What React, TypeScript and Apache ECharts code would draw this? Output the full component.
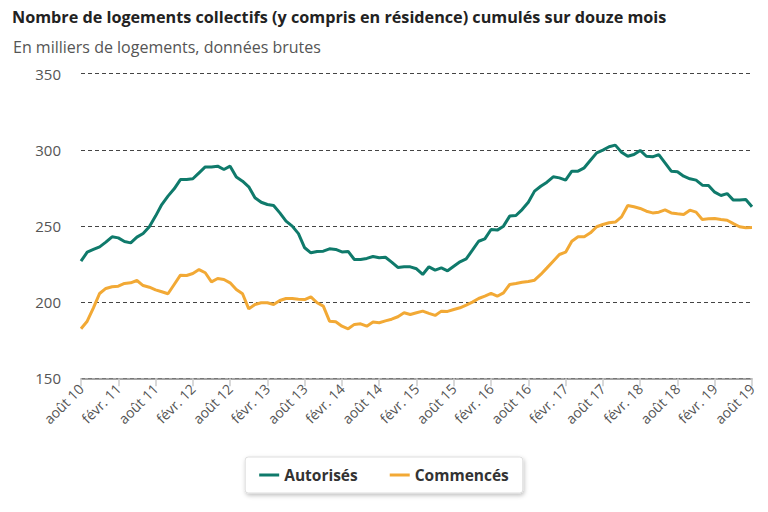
import React, { useEffect, useRef } from "react";
import * as echarts from "echarts";

const MONTHS = ["janv.", "févr.", "mars", "avr.", "mai", "juin", "juil.", "août", "sept.", "oct.", "nov.", "déc."];
// août 2010 .. août 2019
const categories: string[] = [];
for (let i = 0; i <= 108; i++) {
  const mi = (7 + i) % 12;
  const yr = 10 + Math.floor((7 + i) / 12);
  categories.push(`${MONTHS[mi]} ${yr}`);
}

const autorises = [
  226.9, 232.8, 234.6, 236.3, 239.4, 242.9, 242.2, 239.8, 238.9, 242.7, 245.1, 249.5,
  256.5, 264.1, 269.6, 274.4, 280.5, 280.5, 281.0, 284.9, 288.8, 288.8, 289.3, 287.1,
  289.3, 282.1, 279.4, 275.7, 268.5, 265.6, 264.1, 263.5, 258.6, 253.2, 249.9, 245.0,
  235.7, 232.4, 233.3, 233.5, 235.0, 234.6, 233.0, 233.3, 228.0, 228.0, 228.7, 230.0,
  229.1, 229.5, 226.3, 222.8, 223.2, 223.2, 221.9, 218.2, 223.2, 221.0, 222.5, 220.6,
  223.6, 226.5, 228.4, 234.1, 240.0, 241.6, 247.7, 247.3, 249.9, 256.5, 256.9, 260.8,
  265.6, 272.9, 276.1, 278.8, 282.3, 281.6, 280.1, 286.0, 286.0, 288.2, 293.2, 298.0,
  299.8, 302.0, 303.1, 298.5, 295.8, 296.9, 299.6, 295.8, 295.4, 296.9, 291.5, 286.0,
  285.6, 282.7, 281.0, 280.1, 276.8, 276.6, 272.2, 270.0, 271.3, 267.0, 267.0, 267.4,
  262.6,
];

const commences = [
  182.5, 187.5, 196.3, 205.7, 209.0, 210.1, 210.5, 212.3, 212.7, 214.2, 210.9, 209.8,
  208.1, 206.8, 205.5, 211.6, 217.7, 217.5, 218.8, 221.4, 219.3, 213.3, 215.5, 214.9,
  212.7, 208.3, 205.5, 195.6, 198.5, 199.6, 199.6, 198.5, 201.1, 202.4, 202.4, 201.9,
  201.7, 203.5, 199.6, 197.4, 187.5, 187.1, 184.2, 182.5, 185.4, 185.8, 184.2, 186.9,
  186.5, 187.7, 188.8, 190.4, 193.0, 191.9, 193.0, 194.1, 192.6, 191.3, 194.1, 193.9,
  195.2, 196.3, 198.0, 200.0, 202.4, 203.9, 205.7, 203.9, 206.1, 211.6, 212.3, 213.1,
  213.6, 214.4, 218.2, 222.5, 226.9, 231.3, 232.8, 240.0, 242.9, 242.9, 245.5, 249.5,
  251.0, 252.1, 252.6, 256.0, 263.5, 262.6, 261.5, 259.7, 258.6, 259.1, 260.6, 258.6,
  258.0, 257.5, 260.4, 259.1, 254.3, 254.7, 254.9, 254.3, 253.8, 251.6, 249.5, 248.8,
  249.0,
];

const TEAL = "#0f7a6b";
const ORANGE = "#f2a935";

export default function App() {
  const ref = useRef<HTMLDivElement>(null);
  useEffect(() => {
    if (!ref.current) return;
    const chart = echarts.init(ref.current, null, { renderer: "svg" });
    chart.setOption({
      animation: false,
      backgroundColor: "#ffffff",
      title: [
        {
          text: "Nombre de logements collectifs (y compris en résidence) cumulés sur douze mois",
          left: 7,
          top: 4,
          textStyle: { fontFamily: "Open Sans", fontSize: 16.2, fontWeight: "bold", color: "#222" },
        },
        {
          text: "En milliers de logements, données brutes",
          left: 8,
          top: 34,
          textStyle: { fontFamily: "Open Sans", fontSize: 16, fontWeight: "normal", color: "#555" },
        },
      ],
      legend: {
        bottom: 19,
        left: "center",
        itemWidth: 20,
        itemHeight: 3,
        itemGap: 32,
        padding: [10, 14, 10, 14],
        backgroundColor: "#fff",
        borderColor: "#ddd",
        borderWidth: 1,
        borderRadius: 3,
        shadowBlur: 4,
        shadowColor: "rgba(0,0,0,0.25)",
        shadowOffsetX: 1,
        shadowOffsetY: 2,
        icon: "rect",
        textStyle: { fontFamily: "Open Sans", fontSize: 15.5, fontWeight: "bold", color: "#333" },
        data: ["Autorisés", "Commencés"],
      },
      grid: { left: 81, right: 16, top: 73.7, bottom: 133.7, containLabel: false },
      xAxis: {
        type: "category",
        data: categories,
        boundaryGap: false,
        axisLine: { lineStyle: { color: "#888", width: 1.5 } },
        axisTick: { interval: 5, length: 8, lineStyle: { color: "#ccc", width: 1.5 } },
        axisLabel: {
          interval: 5,
          rotate: 45,
          margin: 8,
          fontFamily: "Open Sans",
          fontSize: 14,
          color: "#555",
        },
        splitLine: { show: false },
      },
      yAxis: {
        type: "value",
        min: 150,
        max: 350,
        interval: 50,
        axisLine: { show: false },
        axisTick: { show: false },
        axisLabel: { fontFamily: "Open Sans", fontSize: 15, color: "#555", margin: 20 },
        splitLine: { lineStyle: { type: [4, 3], color: "#444", width: 1 } },
      },
      series: [
        {
          name: "Autorisés",
          type: "line",
          data: autorises,
          showSymbol: false,
          symbol: "none",
          lineStyle: { color: TEAL, width: 3 },
          itemStyle: { color: TEAL },
        },
        {
          name: "Commencés",
          type: "line",
          data: commences,
          showSymbol: false,
          symbol: "none",
          lineStyle: { color: ORANGE, width: 3 },
          itemStyle: { color: ORANGE },
        },
      ],
    });
    return () => chart.dispose();
  }, []);
  return <div ref={ref} style={{ width: 768, height: 512, position: "absolute", left: 0, top: 0 }} />;
}
